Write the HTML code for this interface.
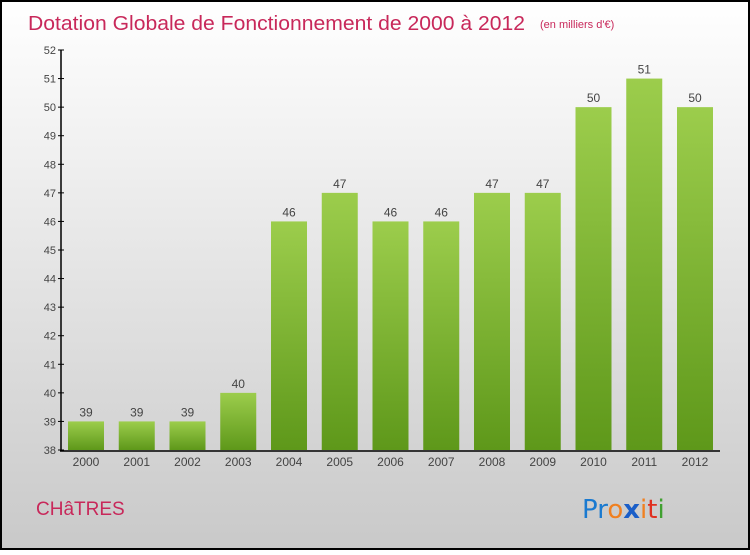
<!DOCTYPE html>
<html><head><meta charset="utf-8"><style>
html,body{margin:0;padding:0}
body{width:750px;height:550px;overflow:hidden;font-family:"Liberation Sans",sans-serif}
</style></head><body>
<svg width="750" height="550">
<defs>
<linearGradient id="bg" x1="0" y1="0" x2="0" y2="1"><stop offset="0" stop-color="#ffffff"/><stop offset="1" stop-color="#c9c9c9"/></linearGradient>
<linearGradient id="bar" x1="0" y1="0" x2="0" y2="1"><stop offset="0" stop-color="#9ccd4c"/><stop offset="1" stop-color="#5e981a"/></linearGradient>
</defs>
<rect x="1" y="1" width="748" height="548" fill="url(#bg)" stroke="#000" stroke-width="2"/>
<text x="28" y="30" font-size="20" fill="#c8285a" textLength="497" lengthAdjust="spacingAndGlyphs">Dotation Globale de Fonctionnement de 2000 à 2012</text>
<text x="540" y="28" font-size="11" fill="#c8285a">(en milliers d'€)</text>
<g id="yaxis"></g>
<g id="bars"></g>
<line x1="61" y1="50" x2="61" y2="451" stroke="#000" stroke-width="1.5"/>
<line x1="60" y1="451" x2="720" y2="451" stroke="#000" stroke-width="1.5"/>
<text x="36" y="515" font-size="19" fill="#c8285a">CHâTRES</text>
<g font-size="26" font-family="'DejaVu Sans',sans-serif">
<text x="582" y="518"><tspan fill="#1a7ad0">Pr</tspan><tspan fill="#f08020">o</tspan><tspan fill="#1a5ec8" font-weight="bold">x</tspan><tspan fill="#f08020">i</tspan><tspan fill="#e03020">t</tspan><tspan fill="#40a030">i</tspan></text>
</g>
</svg>
<script>
const categories=["2000","2001","2002","2003","2004","2005","2006","2007","2008","2009","2010","2011","2012"];
const values=[39,39,39,40,46,47,46,46,47,47,50,51,50];
const yTicks=[38,39,40,41,42,43,44,45,46,47,48,49,50,51,52];
const NS="http://www.w3.org/2000/svg";
const y=v=>450-(v-38)*(400/14);
const x=i=>86+i*50.75;
const ya=document.getElementById('yaxis'),bg=document.getElementById('bars');
function mk(t,a,p){const e=document.createElementNS(NS,t);for(const k in a)e.setAttribute(k,a[k]);p.appendChild(e);return e;}
yTicks.forEach(v=>{
 const l=mk('line',{x1:58,x2:64,y1:y(v),y2:y(v),stroke:'#000'},ya);
 
 
 const t=mk('text',{x:56,y:y(v)+4,'text-anchor':'end','font-size':11,fill:'#444'},ya);
 t.textContent=v;
 
 
});
categories.forEach((c,i)=>{
 const r=mk('rect',{x:x(i)-18,y:y(values[i]),width:36,height:450-y(values[i]),fill:'url(#bar)'},bg);
 
 
 const tl=mk('text',{x:x(i),y:y(values[i])-5,'text-anchor':'middle','font-size':12,fill:'#444'},bg);
 tl.textContent=values[i];
 
 
 const xl=mk('text',{x:x(i),y:466,'text-anchor':'middle','font-size':12,fill:'#444'},bg);
 xl.textContent=c;
 
 
});
</script>
</body></html>
